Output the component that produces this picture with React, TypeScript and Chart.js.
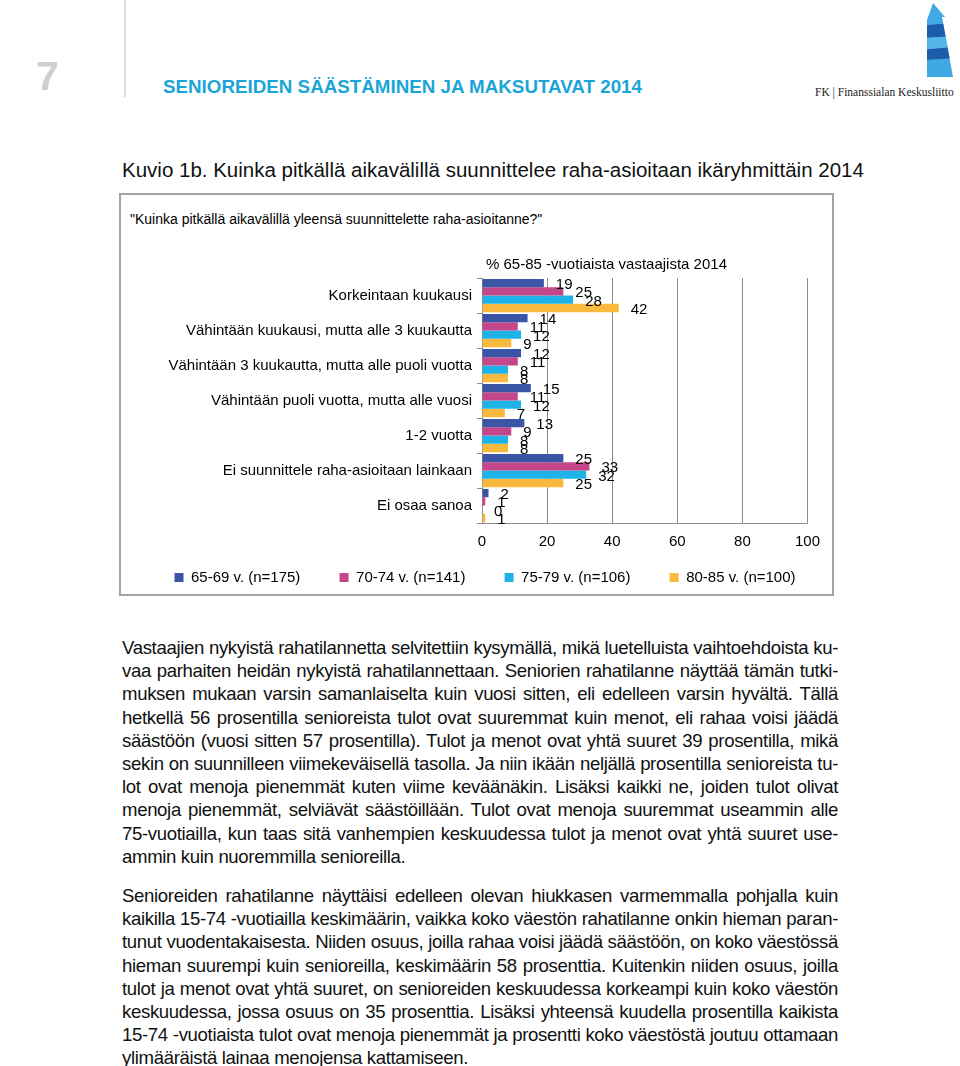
import React, { useEffect, useRef } from "react";
import { Chart, registerables } from "chart.js";

Chart.register(...registerables);

const categories = [
  "Korkeintaan kuukausi",
  "Vähintään kuukausi, mutta alle 3 kuukautta",
  "Vähintään 3 kuukautta, mutta alle puoli vuotta",
  "Vähintään puoli vuotta, mutta alle vuosi",
  "1-2 vuotta",
  "Ei suunnittele raha-asioitaan lainkaan",
  "Ei osaa sanoa",
];
const seriesLabels = ["65-69 v. (n=175)", "70-74 v. (n=141)", "75-79 v. (n=106)", "80-85 v. (n=100)"];
const values6569 = [19, 14, 12, 15, 13, 25, 2];
const values7074 = [25, 11, 11, 11, 9, 33, 1];
const values7579 = [28, 12, 8, 12, 8, 32, 0];
const values8085 = [42, 9, 8, 7, 8, 25, 1];
const seriesColors = ["#3A55A6", "#C4468B", "#1EB3E6", "#F9B93C"];
const xMin = 0;
const xMax = 100;
const xStep = 20;
const chartTitle = "% 65-85 -vuotiaista vastaajista 2014";

const FONT = "'Liberation Sans', Arial, sans-serif";

const para1 = [
  "Vastaajien nykyistä rahatilannetta selvitettiin kysymällä, mikä luetelluista vaihtoehdoista ku-",
  "vaa parhaiten heidän nykyistä rahatilannettaan. Seniorien rahatilanne näyttää tämän tutki-",
  "muksen mukaan varsin samanlaiselta kuin vuosi sitten, eli edelleen varsin hyvältä. Tällä",
  "hetkellä 56 prosentilla senioreista tulot ovat suuremmat kuin menot, eli rahaa voisi jäädä",
  "säästöön (vuosi sitten 57 prosentilla). Tulot ja menot ovat yhtä suuret 39 prosentilla, mikä",
  "sekin on suunnilleen viimekeväisellä tasolla. Ja niin ikään neljällä prosentilla senioreista tu-",
  "lot ovat menoja pienemmät kuten viime keväänäkin. Lisäksi kaikki ne, joiden tulot olivat",
  "menoja pienemmät, selviävät säästöillään. Tulot ovat menoja suuremmat useammin alle",
  "75-vuotiailla, kun taas sitä vanhempien keskuudessa tulot ja menot ovat yhtä suuret use-",
  "ammin kuin nuoremmilla senioreilla.",
];
const para2 = [
  "Senioreiden rahatilanne näyttäisi edelleen olevan hiukkasen varmemmalla pohjalla kuin",
  "kaikilla 15-74 -vuotiailla keskimäärin, vaikka koko väestön rahatilanne onkin hieman paran-",
  "tunut vuodentakaisesta. Niiden osuus, joilla rahaa voisi jäädä säästöön, on koko väestössä",
  "hieman suurempi kuin senioreilla, keskimäärin 58 prosenttia. Kuitenkin niiden osuus, joilla",
  "tulot ja menot ovat yhtä suuret, on senioreiden keskuudessa korkeampi kuin koko väestön",
  "keskuudessa, jossa osuus on 35 prosenttia. Lisäksi yhteensä kuudella prosentilla kaikista",
  "15-74 -vuotiaista tulot ovat menoja pienemmät ja prosentti koko väestöstä joutuu ottamaan",
  "ylimääräistä lainaa menojensa kattamiseen.",
];

function Paragraph({ lines, top }: { lines: string[]; top: number }) {
  return (
    <div style={{ position: "absolute", left: 122, top, width: 716, fontSize: 18.6, letterSpacing: "-0.35px", lineHeight: "23.2px", color: "#111" }}>
      {lines.map((l, i) => (
        <div
          key={i}
          style={{
            textAlign: i === lines.length - 1 ? "left" : "justify",
            textAlignLast: i === lines.length - 1 ? "left" : "justify",
            whiteSpace: "nowrap",
          }}
        >
          {l}
        </div>
      ))}
    </div>
  );
}

export default function App() {
  const ref = useRef<HTMLCanvasElement>(null);

  useEffect(() => {
    if (!ref.current) return;
    const valueLabels = {
      id: "valueLabels",
      afterDatasetsDraw(chart: any) {
        const ctx = chart.ctx;
        ctx.save();
        ctx.font = `15px ${FONT}`;
        ctx.fillStyle = "#000";
        ctx.textAlign = "left";
        ctx.textBaseline = "middle";
        chart.data.datasets.forEach((ds: any, di: number) => {
          const meta = chart.getDatasetMeta(di);
          meta.data.forEach((bar: any, i: number) => {
            ctx.fillText(String(ds.data[i]), bar.x + 12, bar.y + 2);
          });
        });
        ctx.restore();
      },
    };
    const titlePlugin = {
      id: "topTitle",
      afterDraw(chart: any) {
        const ctx = chart.ctx;
        ctx.save();
        ctx.font = `15px ${FONT}`;
        ctx.fillStyle = "#000";
        ctx.textAlign = "left";
        ctx.textBaseline = "middle";
        ctx.fillText(chartTitle, chart.chartArea.left + 4, chart.chartArea.top - 13);
        ctx.restore();
      },
    };
    const datasets = [values6569, values7074, values7579, values8085].map((d, i) => ({
      label: seriesLabels[i],
      data: d,
      backgroundColor: seriesColors[i],
      borderWidth: 0,
      barPercentage: 1.0,
      categoryPercentage: 0.95,
    }));
    const chart = new Chart(ref.current, {
      type: "bar",
      data: { labels: categories, datasets },
      plugins: [valueLabels, titlePlugin],
      options: {
        indexAxis: "y",
        animation: false,
        responsive: false,
        maintainAspectRatio: false,
        layout: { padding: { top: 38, right: 22, left: 42, bottom: 0 } },
        plugins: {
          legend: {
            position: "bottom",
            maxHeight: 30,
            labels: {
              boxWidth: 9,
              boxHeight: 9,
              padding: 10,
              color: "#000",
              font: { family: FONT, size: 15 },
              generateLabels: (c: any) =>
                Chart.defaults.plugins.legend.labels
                  .generateLabels(c)
                  .map((l: any, i: number) => ({ ...l, text: i < 3 ? l.text + "       " : l.text })),
            },
          },
          tooltip: { enabled: false },
          title: { display: false },
        },
        scales: {
          x: {
            min: xMin,
            max: xMax,
            afterFit: (scale: any) => {
              scale.height = 37;
            },
            ticks: { stepSize: xStep, color: "#000", font: { family: FONT, size: 15 }, padding: 10 },
            grid: { color: "#8c8c8c", drawTicks: false, lineWidth: 1 },
            border: { color: "#8c8c8c" },
          },
          y: {
            afterFit: (scale: any) => {
              scale.width = 320;
            },
            ticks: { color: "#000", font: { family: FONT, size: 15 }, padding: 5 },
            grid: { offset: true, drawOnChartArea: false, drawTicks: true, tickLength: 5, color: "#8c8c8c" },
            border: { color: "#8c8c8c" },
          },
        },
      },
    } as any);
    return () => chart.destroy();
  }, []);

  return (
    <div style={{ position: "absolute", left: 0, top: 0, width: 960, height: 1066, fontFamily: FONT, background: "#fff" }}>
      <div style={{ position: "absolute", left: 36, top: 52, fontSize: 41, fontWeight: "bold", color: "#cfcfcf", lineHeight: "48px" }}>7</div>
      <div style={{ position: "absolute", left: 124, top: 0, width: 2, height: 97, background: "#dedede" }} />
      <div style={{ position: "absolute", left: 163, top: 76, fontSize: 18.8, fontWeight: "bold", color: "#1AA5D9", lineHeight: "22px", whiteSpace: "nowrap" }}>
        SENIOREIDEN SÄÄSTÄMINEN JA MAKSUTAVAT 2014
      </div>
      <svg style={{ position: "absolute", left: 0, top: 0 }} width={960} height={110}>
        <defs>
          <clipPath id="logoClip">
            <polygon points="933,3 945,17 942,17 953,77 927,77 927,20" />
          </clipPath>
        </defs>
        <g clipPath="url(#logoClip)">
          <rect x={920} y={0} width={40} height={80} fill="#3FA9E6" />
          <polygon points="920,26 960,22 960,36 920,38" fill="#1C5DAA" />
          <polygon points="920,50 960,46 960,58 920,60" fill="#1C5DAA" />
          <polygon points="920,38 960,36 960,46 920,50" fill="#56B6EC" />
        </g>
      </svg>
      <div style={{ position: "absolute", left: 815, top: 85, fontSize: 11.5, fontFamily: "'Liberation Serif', serif", color: "#222", whiteSpace: "nowrap", lineHeight: "14px" }}>
        FK | Finanssialan Keskusliitto
      </div>
      <div style={{ position: "absolute", left: 122, top: 157, fontSize: 20.5, color: "#111", whiteSpace: "nowrap", lineHeight: "26px" }}>
        Kuvio 1b. Kuinka pitkällä aikavälillä suunnittelee raha-asioitaan ikäryhmittäin 2014
      </div>
      <div style={{ position: "absolute", left: 119, top: 193, width: 711, height: 399, border: "2px solid #a3a3a3" }} />
      <div style={{ position: "absolute", left: 130, top: 210, fontSize: 14, color: "#000", whiteSpace: "nowrap", lineHeight: "18px" }}>
        "Kuinka pitkällä aikavälillä yleensä suunnittelette raha-asioitanne?"
      </div>
      <canvas ref={ref} width={710} height={350} style={{ position: "absolute", left: 120, top: 240, width: 710, height: 350 }} />
      <Paragraph lines={para1} top={636} />
      <Paragraph lines={para2} top={884} />
    </div>
  );
}
